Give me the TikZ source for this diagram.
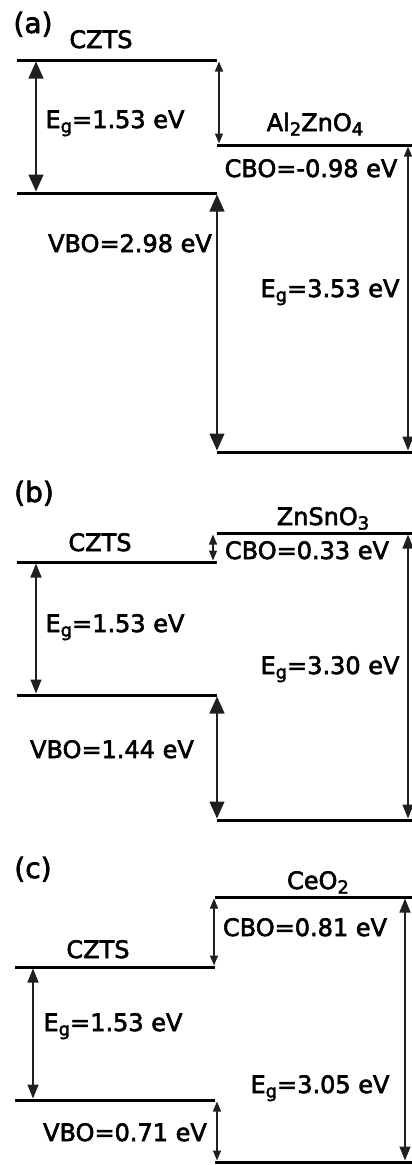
\documentclass[tikz,border=0pt]{standalone}
\usepackage{fontspec}
\setmainfont{DejaVu Sans}
\newfontfamily\bdfont[FakeBold=2.5]{DejaVu Sans}
\usetikzlibrary{arrows.meta}
\definecolor{bdInk}{HTML}{000000}
\definecolor{bdArrow}{HTML}{202020}
\newcommand{\lsub}[1]{\raisebox{-4.5pt}{\fontsize{18}{20}\selectfont #1}}
\tikzset{
  tipB/.tip={Triangle[length=17pt,width=15pt]},
  tipM/.tip={Triangle[length=14pt,width=11pt]},
  tipS/.tip={Triangle[length=10pt,width=8pt]},
  lvl/.style={draw=bdInk, line width=3pt},
  arr/.style={draw=bdArrow, line width=1.3pt, shorten <=1.5pt, shorten >=1.5pt},
  arrB/.style={arr, tipB-tipB},
  arrM/.style={arr, tipM-tipM},
  arrS/.style={arr, tipS-tipS},
  lbl/.style={font=\bdfont\fontsize{24}{28}\selectfont, anchor=base, inner sep=0pt},
  tag/.style={font=\bdfont\fontsize{28}{32}\selectfont, anchor=base, inner sep=0pt},
}
\begin{document}
\begin{tikzpicture}[x=1pt,y=-1pt]
\useasboundingbox (0,0) rectangle (412,1165);

% (a) CZTS / Al2ZnO4
\coordinate (aC1) at (17,60);   \coordinate (aC2) at (217,60);
\coordinate (aV1) at (17,193);  \coordinate (aV2) at (217,193);
\coordinate (aC3) at (217,145); \coordinate (aC4) at (412,145);
\coordinate (aV3) at (217,452); \coordinate (aV4) at (412,452);
\draw[lvl] (aC1) -- (aC2);
\draw[lvl] (aV1) -- (aV2);
\draw[lvl] (aC3) -- (aC4);
\draw[lvl] (aV3) -- (aV4);
\draw[arrB] ([xshift=19pt]aC1) -- ([xshift=19pt]aV1);
\draw[arrS] ([xshift=2pt]aC2) -- ([xshift=2pt]aC3);
\draw[arr, tipS-tipM] ([xshift=-4pt]aC4) -- ([xshift=-4pt]aV4);
\draw[arrB] (aV2) -- (aV3);
\node[tag] (aTag) at (33,33) {(a)};
\node[lbl] (aCZTS) at (101,48) {CZTS};
\node[lbl] (aEgC) at (115,128) {E\lsub{g}=1.53 eV};
\node[lbl] (aOx) at (315,131) {Al\lsub{2}ZnO\lsub{4}};
\node[lbl] (aCBO) at (311,177) {CBO=-0.98 eV};
\node[lbl] (aVBO) at (130,252) {VBO=2.98 eV};
\node[lbl] (aEgO) at (330,297) {E\lsub{g}=3.53 eV};

% (b) CZTS / ZnSnO3
\coordinate (bC1) at (17,562);  \coordinate (bC2) at (217,562);
\coordinate (bV1) at (17,695);  \coordinate (bV2) at (217,695);
\coordinate (bC3) at (217,533); \coordinate (bC4) at (412,533);
\coordinate (bV3) at (217,820); \coordinate (bV4) at (412,820);
\draw[lvl] (bC1) -- (bC2);
\draw[lvl] (bV1) -- (bV2);
\draw[lvl] (bC3) -- (bC4);
\draw[lvl] (bV3) -- (bV4);
\draw[arrS] ([xshift=-4pt]bC3) -- ([xshift=-4pt]bC2);
\draw[arrM] ([xshift=19pt]bC1) -- ([xshift=19pt]bV1);
\draw[arrM] ([xshift=-4pt]bC4) -- ([xshift=-4pt]bV4);
\draw[arrB] (bV2) -- (bV3);
\node[tag] (bTag) at (34,502) {(b)};
\node[lbl] (bOx) at (323,525) {ZnSnO\lsub{3}};
\node[lbl] (bCZTS) at (100,551) {CZTS};
\node[lbl] (bCBO) at (307,559) {CBO=0.33 eV};
\node[lbl] (bEgC) at (115,632) {E\lsub{g}=1.53 eV};
\node[lbl] (bEgO) at (330,674) {E\lsub{g}=3.30 eV};
\node[lbl] (bVBO) at (112,758) {VBO=1.44 eV};

% (c) CZTS / CeO2
\coordinate (cC1) at (15,967);  \coordinate (cC2) at (215,967);
\coordinate (cV1) at (15,1100); \coordinate (cV2) at (215,1100);
\coordinate (cC3) at (215,897); \coordinate (cC4) at (412,897);
\coordinate (cV3) at (215,1162); \coordinate (cV4) at (412,1162);
\draw[lvl] (cC1) -- (cC2);
\draw[lvl] (cV1) -- (cV2);
\draw[lvl] (cC3) -- (cC4);
\draw[lvl] (cV3) -- (cV4);
\draw[arrS] ([xshift=-1pt]cC3) -- ([xshift=-1pt]cC2);
\draw[arrM] ([xshift=18pt]cC1) -- ([xshift=18pt]cV1);
\draw[arrM] ([xshift=-7pt]cC4) -- ([xshift=-7pt]cV4);
\draw[arrS] ([xshift=2pt]cV2) -- ([xshift=2pt]cV3);
\node[tag] (cTag) at (33,878) {(c)};
\node[lbl] (cOx) at (318,889) {CeO\lsub{2}};
\node[lbl] (cCBO) at (305,936) {CBO=0.81 eV};
\node[lbl] (cCZTS) at (98,958) {CZTS};
\node[lbl] (cEgC) at (113,1031) {E\lsub{g}=1.53 eV};
\node[lbl] (cEgO) at (320,1093) {E\lsub{g}=3.05 eV};
\node[lbl] (cVBO) at (125,1141) {VBO=0.71 eV};
\end{tikzpicture}
\end{document}
